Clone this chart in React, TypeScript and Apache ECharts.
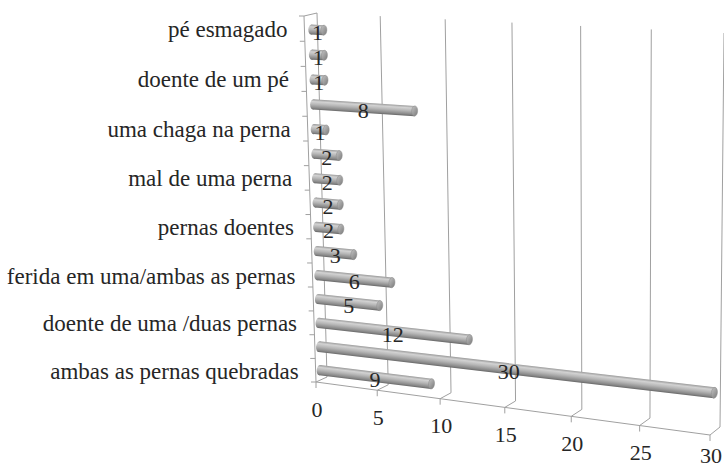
import React, { useEffect, useRef } from 'react';
import * as echarts from 'echarts';

// Categories from bottom (index 0) to top; unlabeled rows in the original are left blank
const categories: string[] = [
  'ambas as pernas quebradas',
  '',
  'doente de uma /duas pernas',
  '',
  'ferida em uma/ambas as pernas',
  '',
  'pernas doentes',
  '',
  'mal de uma perna',
  '',
  'uma chaga na perna',
  '',
  'doente de um pé',
  '',
  'pé esmagado',
];
const values: number[] = [9, 30, 12, 5, 6, 3, 2, 2, 2, 2, 1, 8, 1, 1, 1];
const valueTicks: number[] = [0, 5, 10, 15, 20, 25, 30];

type Pt = [number, number];

// Projective map from the unit square (u along value axis, w upward along category axis)
function homography(q: Pt[]) {
  const [x0, y0] = q[0];
  const [x1, y1] = q[1];
  const [x2, y2] = q[2];
  const [x3, y3] = q[3];
  const sx = x0 - x1 + x2 - x3;
  const sy = y0 - y1 + y2 - y3;
  const dx1 = x1 - x2, dx2 = x3 - x2, dy1 = y1 - y2, dy2 = y3 - y2;
  const det = dx1 * dy2 - dx2 * dy1;
  const g = (sx * dy2 - dx2 * sy) / det;
  const h = (dx1 * sy - sx * dy1) / det;
  const a = x1 - x0 + g * x1, b = x3 - x0 + h * x3, c = x0;
  const d = y1 - y0 + g * y1, e = y3 - y0 + h * y3, f = y0;
  return (u: number, w: number): Pt => {
    const den = g * u + h * w + 1;
    return [(a * u + b * w + c) / den, (d * u + e * w + f) / den];
  };
}

// quads: [u0w0, u1w0, u1w1, u0w1]
const BACK = homography([[327, 377], [720, 427], [724, 33], [317, 13]]);
const FRONT = homography([[316, 382], [710, 435], [713, 38], [304, 16]]);
const MID = homography([[320, 382], [714, 431], [719, 36], [311, 17]]);

const LINE = '#a0a0a0';
const TEXT = '#262626';
const FONT_FAMILY = 'Liberation Serif';

function txt(text: string, x: number, y: number, align: string, size = 22) {
  return {
    type: 'text',
    x,
    y,
    style: {
      text,
      fill: TEXT,
      fontFamily: FONT_FAMILY,
      fontSize: size,
      align,
      verticalAlign: 'middle',
    },
  };
}

function normFn(cs: any) {
  return (p: number[]): Pt => [(p[0] - cs.x) / cs.width, (cs.y + cs.height - p[1]) / cs.height];
}

function seg(a: Pt, b: Pt, color = LINE) {
  return {
    type: 'line',
    shape: { x1: a[0], y1: a[1], x2: b[0], y2: b[1] },
    style: { stroke: color, lineWidth: 1 },
  };
}

function renderFrame(params: any, api: any) {
  const cs = params.coordSys;
  const norm = normFn(cs);
  const v = api.value(0);
  const [u] = norm(api.coord([v, 0]));
  const b0 = BACK(u, 0), b1 = BACK(u, 1), f0 = FRONT(u, 0);
  const children: any[] = [
    seg(b0, b1),
    seg(b0, f0),
    seg(f0, [f0[0], f0[1] + 6]),
    txt(String(v), f0[0] + 1, Math.min(f0[1] + 27, 455), 'center'),
  ];
  if (params.dataIndex === 0) {
    children.push(seg(FRONT(0, 0), FRONT(1, 0)));
    children.push(seg(FRONT(0, 0), FRONT(0, 1)));
    children.push(seg(FRONT(0, 1), BACK(0, 1)));
    const half = api.size([0, 1])[1] / 2;
    for (let i = 0; i < categories.length; i++) {
      const c = api.coord([0, i]);
      const edges = i === 0 ? [c[1] + half, c[1] - half] : [c[1] - half];
      for (const ey of edges) {
        const w = norm([c[0], ey])[1];
        const f = FRONT(0, w);
        children.push(seg([f[0] - 5, f[1]], f));
      }
    }
  }
  return { type: 'group', children };
}

function renderCatLabel(params: any, api: any) {
  const cs = params.coordSys;
  const norm = normFn(cs);
  const idx = api.value(1);
  const name = categories[idx];
  if (!name) return { type: 'group', children: [] };
  const [, w] = norm(api.coord([0, idx]));
  const f = FRONT(0, w);
  return txt(name, f[0] - 17, f[1] + 1, 'right', 23);
}

const bodyGrad = {
  type: 'linear', x: 0, y: 0, x2: 0, y2: 1,
  colorStops: [
    { offset: 0, color: '#9a9a9a' },
    { offset: 0.22, color: '#d2d2d2' },
    { offset: 0.5, color: '#b6b6b6' },
    { offset: 0.85, color: '#888888' },
    { offset: 1, color: '#686868' },
  ],
};
const capGrad = {
  type: 'linear', x: 0, y: 0, x2: 1, y2: 1,
  colorStops: [
    { offset: 0, color: '#c4c4c4' },
    { offset: 1, color: '#7a7a7a' },
  ],
};

function renderBar(params: any, api: any) {
  const cs = params.coordSys;
  const norm = normFn(cs);
  const val = api.value(0);
  const idx = api.value(1);
  const [u0, w] = norm(api.coord([0, idx]));
  const [u1] = norm(api.coord([val, idx]));
  const s = MID(u0, w), e = MID(u1, w);
  const dx = e[0] - s[0], dy = e[1] - s[1];
  const L = Math.hypot(dx, dy);
  const ang = Math.atan2(dy, dx);
  const h = 10 + u1 * 1;
  const mid = MID((u0 + u1) / 2, w);
  return {
    type: 'group',
    children: [
      {
        type: 'group',
        x: s[0],
        y: s[1],
        rotation: -ang,
        children: [
          { type: 'ellipse', shape: { cx: 0, cy: 0, rx: 3, ry: h / 2 }, style: { fill: bodyGrad } },
          { type: 'rect', shape: { x: 0, y: -h / 2, width: L, height: h }, style: { fill: bodyGrad } },
          {
            type: 'ellipse',
            shape: { cx: L, cy: 0, rx: 3, ry: h / 2 },
            style: { fill: capGrad, stroke: '#8a8a8a', lineWidth: 0.5 },
          },
        ],
      },
      txt(String(val), mid[0], mid[1] + 3, 'center'),
    ],
  };
}

export default function App() {
  const ref = useRef<HTMLDivElement>(null);
  useEffect(() => {
    if (!ref.current) return;
    const chart = echarts.init(ref.current, undefined, { renderer: 'svg' });
    chart.setOption({
      animation: false,
      backgroundColor: '#ffffff',
      grid: { left: 316, top: 17, width: 400, height: 365 },
      xAxis: { type: 'value', min: 0, max: 30, interval: 5, show: false },
      yAxis: { type: 'category', data: categories, show: false },
      series: [
        {
          type: 'custom',
          name: 'frame',
          renderItem: renderFrame,
          data: valueTicks.map((v) => [v, 0]),
          encode: { x: 0, y: 1 },
          clip: false,
          silent: true,
          z: 1,
        },
        {
          type: 'custom',
          name: 'categoryLabels',
          renderItem: renderCatLabel,
          data: categories.map((_, i) => [0, i]),
          encode: { x: 0, y: 1 },
          clip: false,
          silent: true,
          z: 2,
        },
        {
          type: 'custom',
          name: 'bars',
          renderItem: renderBar,
          data: values.map((v, i) => [v, i]),
          encode: { x: 0, y: 1 },
          clip: false,
          z: 3,
        },
      ],
    });
    return () => chart.dispose();
  }, []);
  return (
    <div
      ref={ref}
      style={{ position: 'fixed', left: 0, top: 0, width: 724, height: 468, background: '#fff' }}
    />
  );
}
